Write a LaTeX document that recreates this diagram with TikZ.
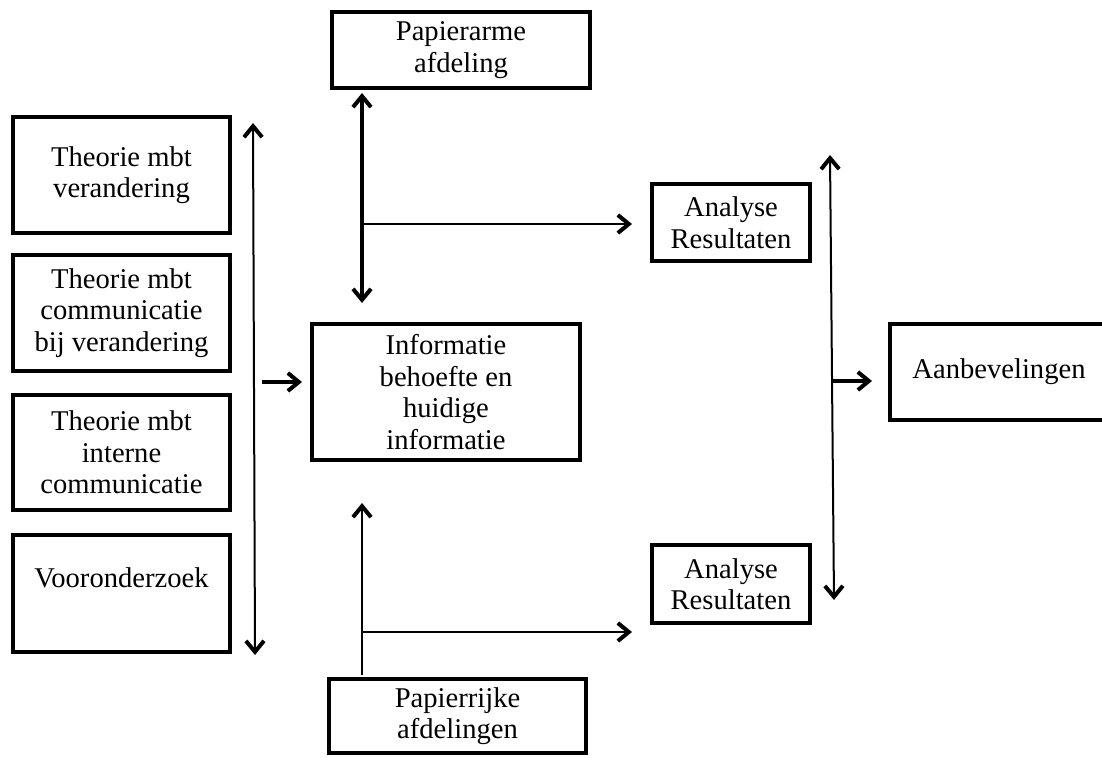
\documentclass[tikz,border=0pt]{standalone}
\usepackage{fontspec}
\setmainfont{Liberation Serif}
\usetikzlibrary{arrows.meta}
\begin{document}
\begin{tikzpicture}[x=1pt,y=-1pt,
 box/.style={draw, line width=4pt, rectangle, inner sep=0pt, align=center, font=\fontsize{28.6}{31.5}\selectfont},
 thickln/.style={line width=3.2pt},
 thinln/.style={line width=2pt},
 tipA/.style={-{Straight Barb[length=11pt,width=18pt,line width=4pt]}},
 tipAB/.style={{Straight Barb[length=11pt,width=18pt,line width=4pt]}-{Straight Barb[length=11pt,width=18pt,line width=4pt]}},
]
\useasboundingbox (0,0) rectangle (1102,757);
\clip (0,0) rectangle (1102,757);
\fill[white] (0,0) rectangle (1102,757);

% boxes
\node[box, minimum width=258pt, minimum height=76pt] (pa) at (461,50) {Papierarme\\afdeling};
\node[box, minimum width=217pt, minimum height=116pt] (t1) at (121.5,175) {Theorie mbt\\verandering};
\node[box, minimum width=217pt, minimum height=116pt] (t2) at (121.5,313) {Theorie mbt\\communicatie\\bij verandering};
\node[box, minimum width=217pt, minimum height=115pt] (t3) at (121.5,452.5) {Theorie mbt\\interne\\communicatie};
\node[box, minimum width=217pt, minimum height=117pt, text height=19pt, text depth=32pt] (t4) at (121.5,593.5) {Vooronderzoek};
\node[box, minimum width=268pt, minimum height=136pt] (info) at (446,392) {Informatie\\behoefte en\\huidige\\informatie};
\node[box, minimum width=257pt, minimum height=74pt] (pr) at (457.5,716) {Papierrijke\\afdelingen};
\node[box, minimum width=158pt, minimum height=77pt] (a1) at (731,222.5) {Analyse\\Resultaten};
\node[box, minimum width=158pt, minimum height=78pt] (a2) at (731,584) {Analyse\\Resultaten};
\node[box, minimum width=218pt, minimum height=96pt] (aa) at (999,372) {Aanbevelingen};

% free ends
\coordinate (l1) at (253,123);
\coordinate (l2) at (255,655);
\coordinate (li1) at (262,382);
\coordinate (li2) at (302,382);
\coordinate (v1) at (362,93);
\coordinate (v2) at (362,303);
\coordinate (h1) at (362,224);
\coordinate (h1e) at (632,224);
\coordinate (b1) at (362,675);
\coordinate (b2) at (362,503);
\coordinate (h2) at (362,632);
\coordinate (h2e) at (632,632);
\coordinate (r1) at (830,155);
\coordinate (r2) at (834,600);
\coordinate (ra1) at (831,381);
\coordinate (ra2) at (872,381);

% connectors
\draw[thinln,tipAB] (l1) -- (l2);
\draw[thickln,tipA] (li1) -- (li2);
\draw[thickln,tipAB] (v1) -- (v2);
\draw[thinln,tipA] (h1) -- (h1e);
\draw[thinln,tipA] (b1) -- (b2);
\draw[thinln,tipA] (h2) -- (h2e);
\draw[thinln,tipAB] (r1) -- (r2);
\draw[thickln,tipA] (ra1) -- (ra2);
\end{tikzpicture}
\end{document}
